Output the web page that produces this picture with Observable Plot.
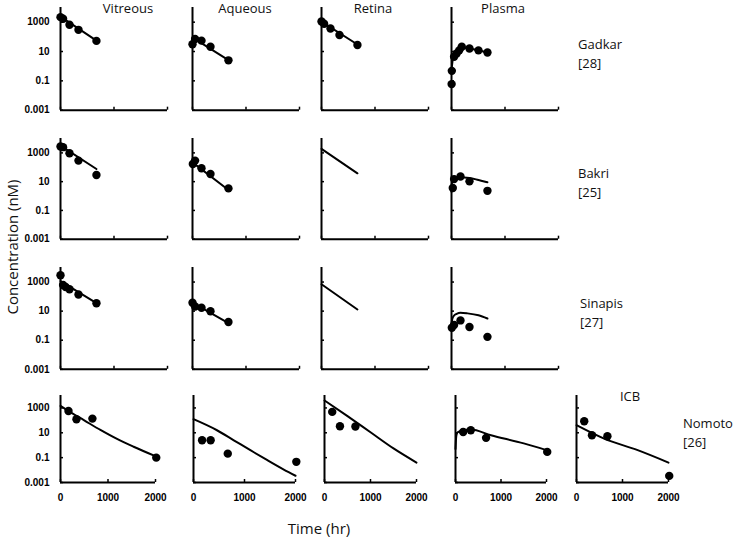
<!DOCTYPE html>
<html><head><meta charset="utf-8">
<script src="https://cdn.jsdelivr.net/npm/d3@7"></script>
<script src="https://cdn.jsdelivr.net/npm/@observablehq/plot@0.6"></script>
<style>
body{margin:0;background:#fff;}
#chart{position:relative;width:735px;height:538px;overflow:hidden;background:#fff;font-family:"Open Sans",sans-serif;color:#111;}
.lbl{position:absolute;font-size:13px;line-height:18px;white-space:nowrap;}
.big{position:absolute;font-size:15px;line-height:20px;white-space:nowrap;}
</style></head><body><div id="chart"></div>
<script>
// ---- labels ----
const organs = ["Vitreous", "Aqueous", "Retina", "Plasma", "ICB"];
const studies = ["Gadkar", "Bakri", "Sinapis", "Nomoto"];
const studyRefs = ["[28]", "[25]", "[27]", "[26]"];
const yTicks = [1000, 10, 0.1, 0.001];
const xTicks = [0, 1000, 2000];
const yTitle = "Concentration (nM)";
const xTitle = "Time (hr)";

// ---- observed data: [time (hr), concentration (nM)] ----
const gadkarVitreousObs = [[0, 2200], [48, 1700], [168, 660], [336, 300], [672, 53]];
const gadkarAqueousObs  = [[0, 31], [48, 72], [168, 55], [336, 21], [672, 2.5]];
const gadkarRetinaObs   = [[0, 1100], [48, 780], [168, 370], [336, 135], [672, 28]];
const gadkarPlasmaObs   = [[2, 0.06], [6, 0.48], [48, 4.4], [96, 7.4], [144, 12], [192, 21], [336, 16], [504, 12], [672, 8.5]];
const bakriVitreousObs  = [[0, 2800], [48, 2500], [168, 950], [336, 290], [672, 29]];
const bakriAqueousObs   = [[6, 170], [48, 290], [168, 86], [336, 34], [672, 3.4]];
const bakriPlasmaObs    = [[24, 3.6], [48, 15], [168, 23], [336, 10.5], [672, 2.3]];
const sinapisVitreousObs = [[0, 2900], [48, 620], [96, 460], [168, 316], [336, 140], [672, 35]];
const sinapisAqueousObs  = [[0, 38], [48, 21], [168, 17], [336, 9.8], [672, 1.8]];
const sinapisPlasmaObs   = [[6, 0.72], [48, 1.1], [168, 2.3], [336, 0.81], [672, 0.17]];
const nomotoVitreousObs = [[168, 570], [336, 124], [672, 138], [2016, 0.1]];
const nomotoAqueousObs  = [[168, 2.5], [336, 2.5], [672, 0.21], [2016, 0.046]];
const nomotoRetinaObs   = [[168, 480], [336, 34], [672, 32]];
const nomotoPlasmaObs   = [[168, 11.7], [336, 16], [672, 3.9], [2016, 0.29]];
const nomotoIcbObs      = [[168, 85], [336, 6.3], [672, 5.2], [2016, 0.0034]];

// ---- model predictions: [time (hr), concentration (nM)] ----
const gadkarVitreousFit = [[0, 2400], [672, 55]];
const gadkarAqueousFit  = [[10, 85], [672, 2.6]];
const gadkarRetinaFit   = [[0, 1100], [672, 30]];
const gadkarPlasmaFit   = [[0, 0.5], [24, 3], [48, 5.5], [96, 9], [168, 15], [240, 18], [336, 16], [504, 12], [672, 8.5]];
const bakriVitreousFit  = [[0, 3200], [672, 76]];
const bakriAqueousFit   = [[0, 220], [672, 2.6]];
const bakriRetinaFit    = [[0, 1900], [672, 38]];
const bakriPlasmaFit    = [[0, 2], [12, 12], [48, 17], [136, 20], [336, 18], [504, 13], [672, 9]];
const sinapisVitreousFit = [[0, 1170], [672, 35]];
const sinapisAqueousFit  = [[0, 38], [672, 1.5]];
const sinapisRetinaFit   = [[0, 700], [672, 13]];
const sinapisPlasmaFit   = [[0, 1], [12, 2.7], [48, 5], [96, 6.5], [168, 7.7], [300, 7], [504, 5.2], [672, 3.1]];
const nomotoVitreousFit = [[0, 1450], [168, 560], [500, 100], [840, 17], [1190, 3.2], [1540, 0.75], [2000, 0.13]];
const nomotoAqueousFit  = [[0, 124], [460, 16], [790, 2.5], [1115, 0.4], [1440, 0.065], [1770, 0.011], [2000, 0.0035]];
const nomotoRetinaFit   = [[0, 4000], [500, 220], [1000, 11], [1500, 0.55], [2000, 0.04]];
const nomotoPlasmaFit   = [[0, 0.5], [8, 2], [20, 6.3], [48, 11], [125, 14], [336, 18], [780, 6.3], [1500, 1.4], [2000, 0.4]];
const nomotoIcbFit      = [[0, 41], [600, 3.4], [1330, 0.4], [2000, 0.04]];

const panels = [
  {row: 0, col: 0, obs: gadkarVitreousObs, fit: gadkarVitreousFit},
  {row: 0, col: 1, obs: gadkarAqueousObs, fit: gadkarAqueousFit},
  {row: 0, col: 2, obs: gadkarRetinaObs, fit: gadkarRetinaFit},
  {row: 0, col: 3, obs: gadkarPlasmaObs, fit: gadkarPlasmaFit},
  {row: 1, col: 0, obs: bakriVitreousObs, fit: bakriVitreousFit},
  {row: 1, col: 1, obs: bakriAqueousObs, fit: bakriAqueousFit},
  {row: 1, col: 2, obs: [], fit: bakriRetinaFit},
  {row: 1, col: 3, obs: bakriPlasmaObs, fit: bakriPlasmaFit},
  {row: 2, col: 0, obs: sinapisVitreousObs, fit: sinapisVitreousFit},
  {row: 2, col: 1, obs: sinapisAqueousObs, fit: sinapisAqueousFit},
  {row: 2, col: 2, obs: [], fit: sinapisRetinaFit},
  {row: 2, col: 3, obs: sinapisPlasmaObs, fit: sinapisPlasmaFit},
  {row: 3, col: 0, obs: nomotoVitreousObs, fit: nomotoVitreousFit},
  {row: 3, col: 1, obs: nomotoAqueousObs, fit: nomotoAqueousFit},
  {row: 3, col: 2, obs: nomotoRetinaObs, fit: nomotoRetinaFit},
  {row: 3, col: 3, obs: nomotoPlasmaObs, fit: nomotoPlasmaFit},
  {row: 3, col: 4, obs: nomotoIcbObs, fit: nomotoIcbFit}
];

// ---- layout ----
const rowTop = [7.3, 137.6, 266.5, 395.3];
const rowH = [102.7, 100.7, 101.8, 87];
const colLeft = [[60, 192, 321, 451], [60, 192, 321, 451], [60, 192, 321, 451], [60, 193, 324, 455, 576]];
const colW = [[107, 107, 107, 107], [107, 107, 107, 107], [107, 107, 107, 107], [95, 102, 92, 91, 92]];
const mL = 45, mR = 8, mT = 6, mB = 24;

const chart = document.getElementById("chart");

for (const p of panels) {
  const w = colW[p.row][p.col], h = rowH[p.row];
  const svg = Plot.plot({
    width: mL + w + mR,
    height: mT + h + mB,
    marginLeft: mL, marginRight: mR, marginTop: mT, marginBottom: mB,
    x: {domain: [0, 2000]},
    y: {type: "log", domain: [0.001, 10000]},
    style: {fontFamily: "'Liberation Sans', Arial, sans-serif", fontSize: "10px", fontWeight: "bold", background: "transparent", overflow: "visible", color: "#000"},
    marks: [
      Plot.axisY({ticks: yTicks, tickSize: -3, tickPadding: 14, strokeWidth: 1.5, label: null,
        tickFormat: p.col === 0 ? (d) => String(d) : () => ""}),
      Plot.axisX({ticks: xTicks, tickSize: -3, tickPadding: 14, strokeWidth: 1.5, label: null,
        tickFormat: p.row === 3 ? (d) => String(d) : () => ""}),
      Plot.ruleX([0], {stroke: "#000", strokeWidth: 2}),
      Plot.ruleY([0.001], {stroke: "#000", strokeWidth: 2}),
      Plot.line(p.fit, {x: (d) => d[0], y: (d) => d[1], stroke: "#000", strokeWidth: 2, curve: "monotone-x"}),
      Plot.dot(p.obs, {x: (d) => d[0], y: (d) => d[1], r: 4.2, fill: "#000"})
    ]
  });
  svg.style.position = "absolute";
  svg.style.left = (colLeft[p.row][p.col] - mL) + "px";
  svg.style.top = (rowTop[p.row] - mT) + "px";
  chart.appendChild(svg);
}

function addLabel(text, cls, x, y, transform) {
  const d = document.createElement("div");
  d.className = cls;
  d.textContent = text;
  d.style.left = x + "px";
  d.style.top = y + "px";
  d.style.transform = transform;
  chart.appendChild(d);
}
// column titles
const titleX = [128, 245, 373, 503];
organs.slice(0, 4).forEach((o, i) => addLabel(o, "lbl", titleX[i], 8, "translate(-50%,-50%)"));
addLabel(organs[4], "lbl", 630, 396, "translate(-50%,-50%)");
// row labels
const rowLabX = [578, 578, 580, 683];
const rowLabY = [44, 173, 303, 423];
studies.forEach((s, i) => {
  addLabel(s, "lbl", rowLabX[i], rowLabY[i], "translate(0,-50%)");
  addLabel(studyRefs[i], "lbl", rowLabX[i], rowLabY[i] + 19, "translate(0,-50%)");
});
addLabel(xTitle, "big", 319, 528, "translate(-50%,-50%)");
addLabel(yTitle, "big", 12, 247, "translate(-50%,-50%) rotate(-90deg)");
</script></body></html>
